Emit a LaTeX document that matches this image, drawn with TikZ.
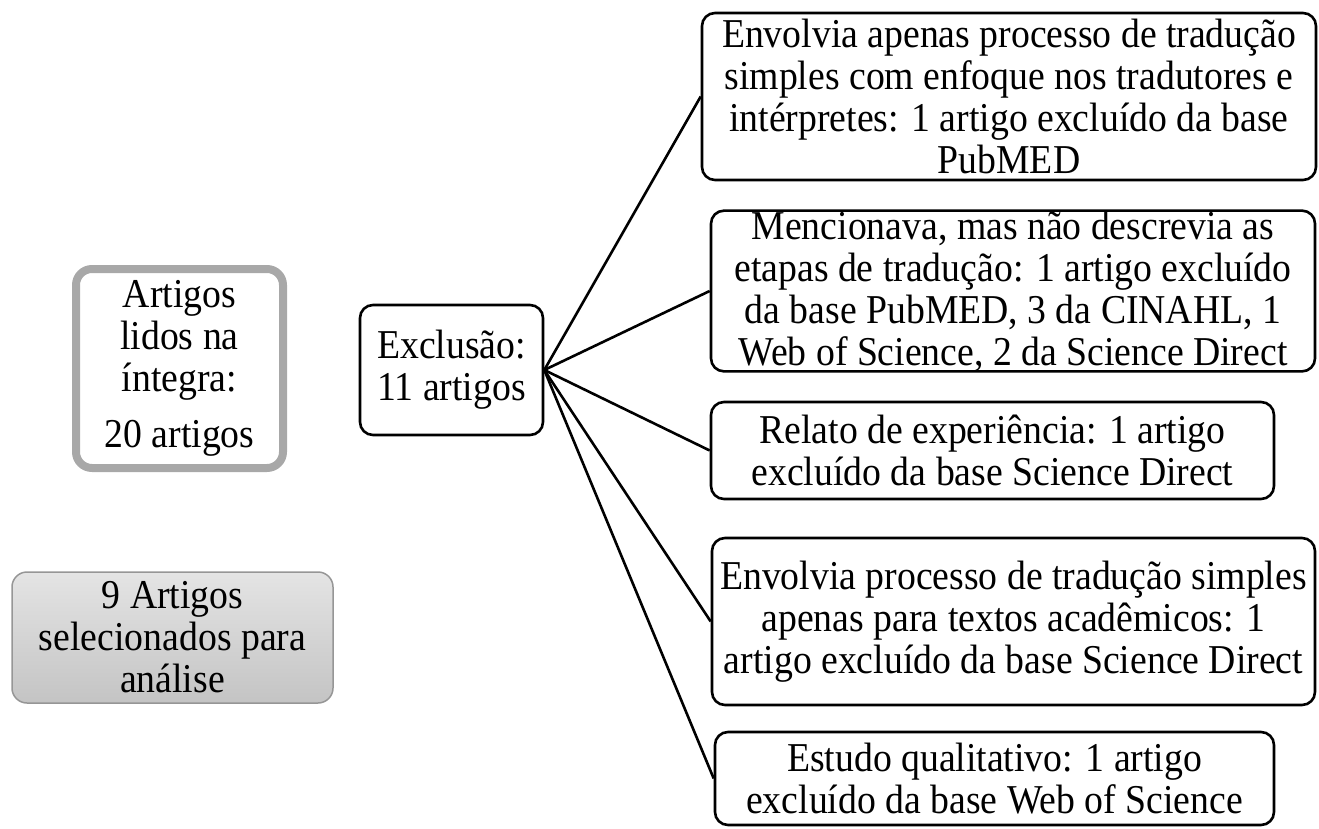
\documentclass[tikz,border=0pt]{standalone}
\usepackage{fontspec}
\setmainfont{Liberation Serif}[FakeStretch=0.92]
\definecolor{rimgray}{RGB}{168,168,168}
\definecolor{fillTop}{RGB}{228,228,228}
\definecolor{fillBot}{RGB}{196,196,196}
\definecolor{selBorder}{RGB}{150,150,150}
\begin{document}
\begin{tikzpicture}[x=1pt,y=-1pt,
  txt/.style={align=center, inner sep=0pt, font=\fontsize{41}{42}\selectfont},
  box/.style={txt, draw=black, line width=2.6pt, rounded corners=13pt},
  readbox/.style={txt, draw=rimgray, line width=8pt, rounded corners=16pt, fill=white},
  selbox/.style={txt, draw=selBorder, line width=1.5pt, rounded corners=15pt, top color=fillTop, bottom color=fillBot},
  conn/.style={draw=black, line width=2.6pt}]
\useasboundingbox (0,0) rectangle (1319,829);

\node[readbox, minimum width=207pt, minimum height=199pt] (read) at (179.5,368.5)
  {Artigos\\lidos na\\íntegra:\\[14pt]20 artigos};
\node[selbox, minimum width=321pt, minimum height=131pt] (sel) at (172.5,637.5)
  {9 Artigos\\selecionados para\\análise};
\node[box, minimum width=183pt, minimum height=130pt] (excl) at (451.5,370)
  {Exclusão:\\11 artigos};

\node[box, minimum width=614pt, minimum height=167pt] (b1) at (1009,96.5)
  {Envolvia apenas processo de tradução\\simples com enfoque nos tradutores e\\intérpretes: 1 artigo excluído da base\\PubMED};
\node[box, minimum width=604pt, minimum height=156pt] (b2) at (1013,291)
  {Mencionava, mas não descrevia as\\etapas de tradução: 1 artigo excluído\\da base PubMED, 3 da CINAHL, 1\\Web of Science, 2 da Science Direct};
\node[box, minimum width=563pt, minimum height=97pt] (b3) at (992.5,450.5)
  {Relato de experiência: 1 artigo\\excluído da base Science Direct};
\node[box, minimum width=603pt, minimum height=167pt] (b4) at (1013.5,621.5)
  {Envolvia processo de tradução simples\\apenas para textos acadêmicos: 1\\artigo excluído da base Science Direct};
\node[box, minimum width=559pt, minimum height=93pt] (b5) at (994.5,778.5)
  {Estudo qualitativo: 1 artigo\\excluído da base Web of Science};

\foreach \b in {b1,b2,b3,b4,b5}
  \draw[conn] (excl.east) -- (\b.west);
\end{tikzpicture}
\end{document}
